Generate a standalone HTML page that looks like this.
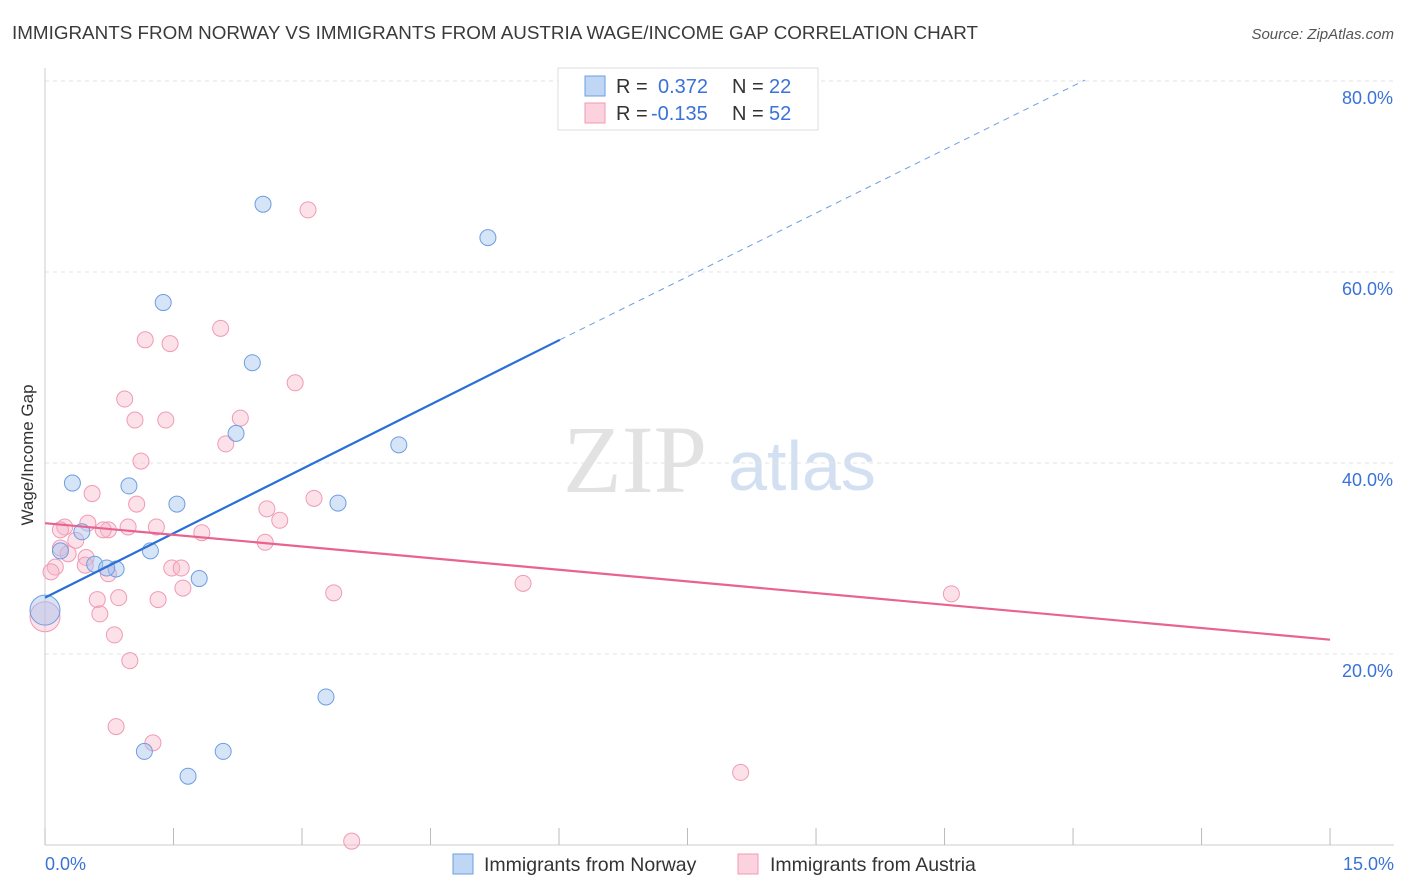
<!DOCTYPE html>
<html><head><meta charset="utf-8"><style>
body{margin:0;background:#fff;font-family:"Liberation Sans",Arial,sans-serif}
svg{display:block}
</style></head><body>
<svg id="chart" width="1406" height="892">
<text x="12" y="39" font-size="18" fill="#3a3a3a" textLength="966" lengthAdjust="spacingAndGlyphs">IMMIGRANTS FROM NORWAY VS IMMIGRANTS FROM AUSTRIA WAGE/INCOME GAP CORRELATION CHART</text>
<text x="1394" y="39" font-size="15" fill="#555" text-anchor="end" font-style="italic">Source: ZipAtlas.com</text>
<text x="33" y="455" font-size="17" fill="#333" text-anchor="middle" transform="rotate(-90 33 455)">Wage/Income Gap</text>
<g><text x="635" y="492" font-size="96" fill="#e2e2e2" text-anchor="middle" font-family="Liberation Serif,serif">ZIP</text><text x="802" y="490" font-size="70" fill="#d3e0f2" text-anchor="middle">atlas</text></g>
<g id="grid"></g><g id="marks"></g>
<g>
<rect x="558" y="68" width="260" height="62" fill="#fff" stroke="#ddd"/>
<rect x="585" y="76" width="20" height="20" fill="rgba(164,196,240,0.7)" stroke="#6d9ee0"/>
<rect x="585" y="103" width="20" height="20" fill="rgba(248,180,200,0.6)" stroke="#f09ab6"/>
<text x="616" y="93" font-size="20" fill="#333">R = <tspan x="658" fill="#3a72d8">0.372</tspan><tspan x="732">N = </tspan><tspan x="769" fill="#3a72d8">22</tspan></text>
<text x="616" y="120" font-size="20" fill="#333">R = <tspan x="651" fill="#3a72d8">-0.135</tspan><tspan x="732">N = </tspan><tspan x="769" fill="#3a72d8">52</tspan></text>
</g>
<g>
<rect x="453" y="854" width="20" height="20" fill="rgba(164,196,240,0.7)" stroke="#6d9ee0"/>
<text x="484" y="871" font-size="19.5" fill="#333">Immigrants from Norway</text>
<rect x="738" y="854" width="20" height="20" fill="rgba(248,180,200,0.6)" stroke="#f09ab6"/>
<text x="770" y="871" font-size="19.5" fill="#333">Immigrants from Austria</text>
</g>
</svg>
<script>
const yTicks=[20,40,60,80];
const yTickLabels=["20.0%","40.0%","60.0%","80.0%"];
const xTickVals=[0,1.5,3,4.5,6,7.5,9,10.5,12,13.5,15];
const norwayX=[2.545,5.17,1.38,2.42,2.23,4.13,0.32,0.98,1.54,3.42,0.43,0.18,1.23,0.58,0.83,1.80,0,3.28,2.08,1.16,1.67,0.72];
const norwayY=[67.1,63.6,56.8,50.5,43.1,41.9,37.9,37.6,35.7,35.8,32.8,30.8,30.8,29.4,28.9,27.9,24.6,15.5,9.8,9.8,7.2,29.0];
const austriaX=[3.07,2.05,1.17,1.46,2.92,0.93,1.05,1.41,2.28,2.11,1.12,0.55,3.14,1.07,2.59,2.74,0.23,0.50,1.30,0.97,0.74,0.68,0.36,1.83,2.57,0.18,0.27,0.48,0.47,0.12,0.07,0.74,1.48,1.59,5.58,1.61,3.37,10.58,0.61,0.86,1.32,0.64,0.81,0.99,0.83,1.26,8.12,3.58,0,0.18];
const austriaY=[66.5,54.1,52.9,52.5,48.4,46.7,44.5,44.5,44.7,42.0,40.2,36.8,36.3,35.7,35.2,34.0,33.3,33.7,33.3,33.3,33.0,33.0,31.9,32.7,31.7,31.1,30.5,30.1,29.3,29.1,28.6,28.4,29.0,29.0,27.4,26.9,26.4,26.3,25.7,25.9,25.7,24.2,22.0,19.3,12.4,10.7,7.6,0.4,23.9,33.0];
const norwayTrend=[25.9,52.9,80.1];const norwayTrendX=[0,6.01,12.14];
const austriaTrend=[33.7,21.5];const austriaTrendX=[0,15];
const NS="http://www.w3.org/2000/svg";
const sx=v=>45+v*85.67, sy=v=>845-v*9.55;
function mk(t,a,p){const e=document.createElementNS(NS,t);for(const k in a)e.setAttribute(k,a[k]);p.appendChild(e);return e;}
const g=document.getElementById('grid'),m=document.getElementById('marks');
yTicks.forEach((v,i)=>{
 const l=mk('line',{x1:45,x2:1394,y1:sy(v),y2:sy(v),stroke:'#e3e3e3','stroke-dasharray':'4,4'},g);
 
 
 const t=mk('text',{x:1393,y:sy(v)+23,'font-size':18,fill:'#3a72d8','text-anchor':'end'},g);t.textContent=yTickLabels[i];
 
 
});
const ax=mk('line',{x1:45,x2:1394,y1:845,y2:845,stroke:'#ccc'},g);


const ay=mk('line',{x1:45,x2:45,y1:68,y2:845,stroke:'#ccc'},g);


xTickVals.forEach(v=>{const l=mk('line',{x1:sx(v),x2:sx(v),y1:828,y2:845,stroke:'#bbb'},g);
 
 });
[["0.0%",45,'start'],["15.0%",1394,'end']].forEach(a=>{const t=mk('text',{x:a[1],y:870,'font-size':18,fill:'#3a72d8','text-anchor':a[2]},g);t.textContent=a[0];
 
 });
function pts(X,Y,fill,stroke,name){X.forEach((x,i)=>{const big=(x===0);
 const c=mk('circle',{cx:sx(x),cy:sy(Y[i]),r:big?15:8,fill:fill,stroke:stroke,'stroke-width':1},m);
 
 });}
pts(austriaX,austriaY,'rgba(248,180,200,0.4)','#f09ab6','austria-point');
pts(norwayX,norwayY,'rgba(164,196,240,0.45)','#6d9ee0','norway-point');
const bl=mk('line',{x1:sx(norwayTrendX[0]),y1:sy(norwayTrend[0]),x2:sx(norwayTrendX[1]),y2:sy(norwayTrend[1]),stroke:'#2a6fd6','stroke-width':2.2},m);


const bd=mk('line',{x1:sx(norwayTrendX[1]),y1:sy(norwayTrend[1]),x2:sx(norwayTrendX[2]),y2:sy(norwayTrend[2]),stroke:'#6d9ee0','stroke-width':1,'stroke-dasharray':'6,5'},m);


const pl=mk('line',{x1:sx(austriaTrendX[0]),y1:sy(austriaTrend[0]),x2:sx(austriaTrendX[1]),y2:sy(austriaTrend[1]),stroke:'#e8638f','stroke-width':2.2},m);


</script>
</body></html>
